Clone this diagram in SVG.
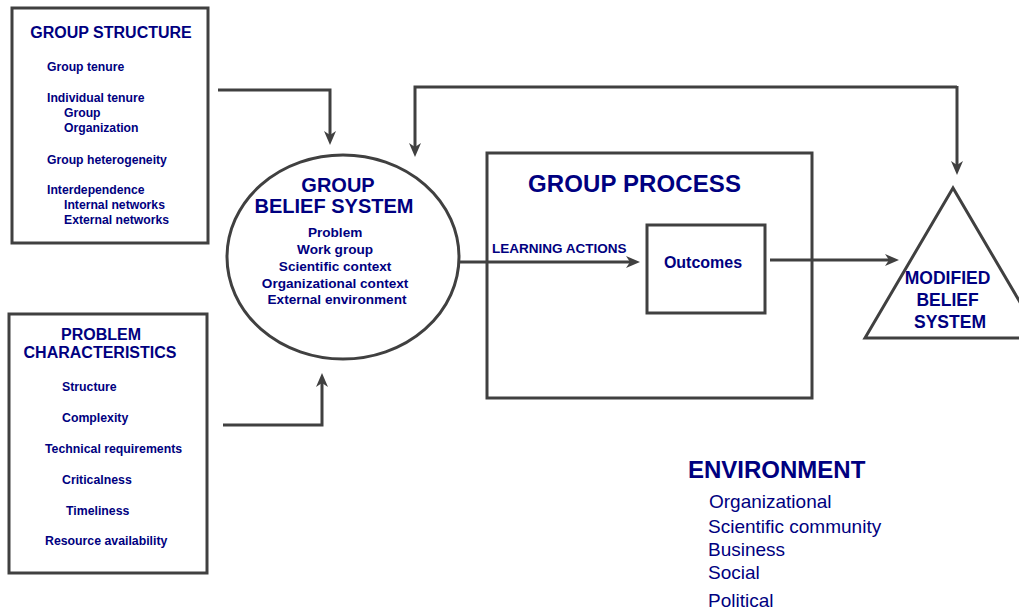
<svg xmlns="http://www.w3.org/2000/svg" width="1019" height="613" viewBox="0 0 1019 613">
<style>
.box{fill:#fff;stroke:#404040;stroke-width:3}
.con{fill:none;stroke:#404040;stroke-width:3;marker-end:url(#ah)}
.t{font-family:"Liberation Sans",Arial,sans-serif;fill:#000080;font-weight:bold}
.r{font-family:"Liberation Sans",Arial,sans-serif;fill:#000080}
.m{text-anchor:middle}
</style>
<defs>
<marker id="ah" markerUnits="userSpaceOnUse" viewBox="0 0 14 12" markerWidth="14" markerHeight="12" refX="8" refY="6" orient="auto">
<path d="M0,0 L14,6 L0,12 L4,6 Z" fill="#404040"/>
</marker>
</defs>
<rect width="1019" height="613" fill="#fff"/>

<g id="group-structure">
<rect class="box" x="12" y="8" width="196" height="235"/>
<text class="t m" x="111" y="38" font-size="16">GROUP STRUCTURE</text>
<text class="t" font-size="12.2">
<tspan x="47" y="71">Group tenure</tspan>
<tspan x="47" y="102">Individual tenure</tspan>
<tspan x="64" y="117">Group</tspan>
<tspan x="64" y="132">Organization</tspan>
<tspan x="47" y="164">Group heterogeneity</tspan>
<tspan x="47" y="194">Interdependence</tspan>
<tspan x="64" y="209">Internal networks</tspan>
<tspan x="64" y="224">External networks</tspan>
</text>
</g>

<g id="problem-characteristics">
<rect class="box" x="9" y="314" width="198" height="259"/>
<text class="t m" x="101" y="340" font-size="16">PROBLEM</text>
<text class="t m" x="100" y="358" font-size="16">CHARACTERISTICS</text>
<text class="t" font-size="12.3">
<tspan x="62" y="391">Structure</tspan>
<tspan x="62" y="422">Complexity</tspan>
<tspan x="45" y="453">Technical requirements</tspan>
<tspan x="62" y="484">Criticalness</tspan>
<tspan x="66" y="515">Timeliness</tspan>
<tspan x="45" y="545">Resource availability</tspan>
</text>
</g>

<g id="group-belief-system">
<ellipse class="box" cx="343" cy="257" rx="116" ry="102"/>
<text class="t m" x="338" y="192" font-size="20">GROUP</text>
<text class="t m" x="334" y="213" font-size="20">BELIEF SYSTEM</text>
<text class="t m" font-size="13.6">
<tspan x="337" y="237">Problem</tspan>
<tspan x="337" y="254">Work group</tspan>
<tspan x="337" y="271">Scientific context</tspan>
<tspan x="337" y="288">Organizational context</tspan>
<tspan x="337" y="304">External environment</tspan>
</text>
</g>

<g id="group-process">
<rect class="box" x="487" y="153" width="325" height="245"/>
<text class="t" x="528" y="192" font-size="24" textLength="213">GROUP PROCESS</text>
</g>

<g id="outcomes">
<rect class="box" x="647" y="225" width="118" height="88"/>
<text class="t m" x="703" y="268" font-size="16">Outcomes</text>
</g>

<g id="modified-belief-system">
<polygon class="box" points="953,188 865,338 1041,338"/>
<text class="t m" font-size="17.5">
<tspan x="950" y="284">MODIFIED</tspan>
<tspan x="950" y="306">BELIEF</tspan>
<tspan x="950" y="328">SYSTEM</tspan>
</text>
</g>

<g id="environment">
<text class="t" x="688" y="478" font-size="24">ENVIRONMENT</text>
<text class="r" font-size="19">
<tspan x="709" y="508">Organizational</tspan>
<tspan x="708" y="533">Scientific community</tspan>
<tspan x="708" y="556">Business</tspan>
<tspan x="708" y="579">Social</tspan>
<tspan x="708" y="607">Political</tspan>
</text>
</g>

<g id="connectors">
<path class="con" d="M218,90 L330,90 L330,139"/>
<path class="con" d="M223,425 L322,425 L322,379"/>
<path class="con" d="M957,87 L415,87 L415,151"/>
<path class="con" d="M957,86 L957,169"/>
<path class="con" d="M459,262 L634,262"/>
<path class="con" d="M770,260 L893,260"/>
<text class="t" x="492" y="253" font-size="13.5">LEARNING ACTIONS</text>
</g>
</svg>
